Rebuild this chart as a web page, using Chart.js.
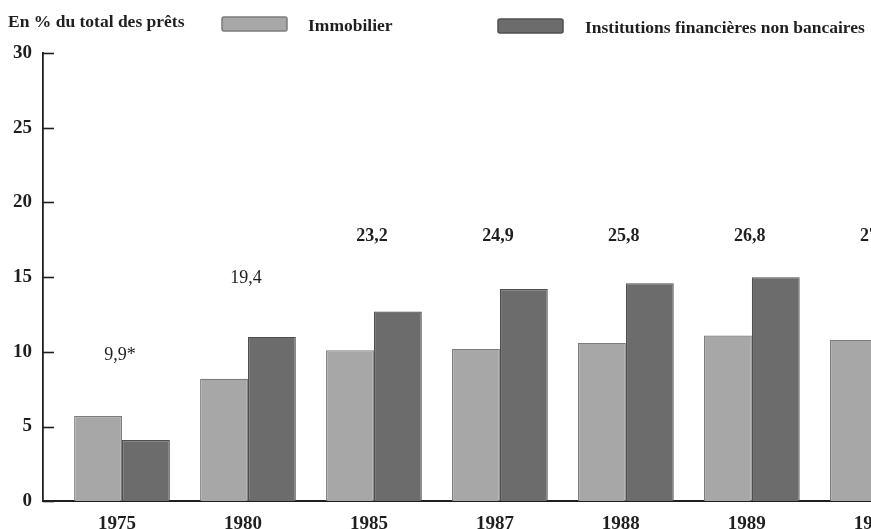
<!DOCTYPE html>
<html>
<head>
<meta charset="utf-8">
<script src="https://cdn.jsdelivr.net/npm/chart.js@4.4.1/dist/chart.umd.min.js"></script>
<style>
html,body{margin:0;padding:0;background:#fff;overflow:hidden}
#wrap{width:871px;height:529px;overflow:hidden;position:relative;background:#fff}
#inner{position:absolute;left:0;top:0;width:1000px;height:529px}
</style>
</head>
<body>
<div id="wrap"><div id="inner"><canvas id="c" width="1000" height="529"></canvas></div></div>
<script>
// ---- data ----
const years = ['1975', '1980', '1985', '1987', '1988', '1989', '1990'];
const immobilier = [5.7, 8.2, 10.1, 10.2, 10.6, 11.1, 10.8];
const nonBancaires = [4.1, 11.0, 12.7, 14.2, 14.6, 15.0, 15.4];
const totalLabels = ['9,9*', '19,4', '23,2', '24,9', '25,8', '26,8', '27,4'];
const yTicks = [0, 5, 10, 15, 20, 25, 30];
const axisTitle = 'En % du total des prêts';
const seriesNames = ['Immobilier', 'Institutions financières non bancaires'];

// ---- styles ----
const INK = '#1f1f1f';
const SERIF = '"Liberation Serif", "DejaVu Serif", serif';
const C_IMMO = '#a7a7a7', B_IMMO = '#7c7c7c';
const C_NB = '#6c6c6c', B_NB = '#4f4f4f';

const annotations = {
  id: 'annotations',
  afterDatasetsDraw(chart, args, opts) {
    const {ctx, scales: {x, y}} = chart;
    ctx.save();
    // inward tick marks on the y axis
    ctx.strokeStyle = INK;
    ctx.lineWidth = 1.6;
    y.ticks.forEach((t, i) => {
      const py = Math.round(y.getPixelForTick(i)) + 0.5;
      ctx.beginPath();
      ctx.moveTo(x.left, py);
      ctx.lineTo(x.left + opts.tickLen, py);
      ctx.stroke();
    });
    // total labels above each group
    ctx.fillStyle = INK;
    ctx.textAlign = 'center';
    ctx.textBaseline = 'middle';
    totalLabels.forEach((s, i) => {
      ctx.font = opts.weights[i] + ' 18px ' + SERIF;
      ctx.fillText(s, x.getPixelForValue(i) + opts.dx, y.getPixelForValue(opts.levels[i]));
    });
    ctx.restore();
  },
  afterDraw(chart, args, opts) {
    const {ctx} = chart;
    ctx.save();
    ctx.fillStyle = INK;
    ctx.textBaseline = 'alphabetic';
    ctx.textAlign = 'left';
    ctx.font = 'bold 17.5px ' + SERIF;
    ctx.fillText(axisTitle, 8, 27);
    // legend
    chart.data.datasets.forEach((ds, i) => {
      const lg = opts.legend[i];
      ctx.fillStyle = ds.backgroundColor;
      ctx.strokeStyle = ds.borderColor;
      ctx.lineWidth = 1.5;
      ctx.beginPath();
      ctx.roundRect(lg.bx, lg.by, 65, 14, 2);
      ctx.fill();
      ctx.stroke();
      ctx.fillStyle = INK;
      ctx.font = 'bold 17.5px ' + SERIF;
      ctx.fillText(ds.label, lg.tx, lg.ty);
    });
    ctx.restore();
  }
};

new Chart(document.getElementById('c'), {
  type: 'bar',
  data: {
    datasets: [
      {
        label: seriesNames[0],
        data: immobilier.map((v, i) => ({x: i, y: v})),
        backgroundColor: C_IMMO,
        borderColor: B_IMMO,
        borderWidth: 1.2
      },
      {
        label: seriesNames[1],
        data: nonBancaires.map((v, i) => ({x: i, y: v})),
        backgroundColor: C_NB,
        borderColor: B_NB,
        borderWidth: 1.2
      }
    ]
  },
  options: {
    responsive: false,
    animation: false,
    devicePixelRatio: 1,
    categoryPercentage: 0.76,
    barPercentage: 1.0,
    layout: {padding: {top: 53, left: 0, right: 0, bottom: 0}},
    plugins: {
      legend: {display: false},
      tooltip: {enabled: false},
      annotations: {
        tickLen: 11,
        dx: -2,
        levels: [9.8, 14.9, 17.75, 17.75, 17.75, 17.75, 17.75],
        weights: ['normal', 'normal', 'bold', 'bold', 'bold', 'bold', 'bold'],
        legend: [
          {bx: 222, by: 17, tx: 308, ty: 31},
          {bx: 498, by: 19, tx: 585, ty: 33}
        ]
      }
    },
    scales: {
      x: {
        type: 'linear',
        offset: false,
        min: -0.627,
        max: 6.97,
        afterFit(s) { s.height = 27.7; },
        grid: {display: false},
        border: {display: true, color: INK, width: 2},
        ticks: {
          stepSize: 1,
          includeBounds: false,
          autoSkip: false,
          maxRotation: 0,
          labelOffset: -5,
          padding: 3,
          color: INK,
          font: {family: SERIF, size: 19, weight: 'bold'},
          callback: (v) => (Number.isInteger(v) && years[v] !== undefined) ? years[v] : ''
        }
      },
      y: {
        min: 0,
        max: 30,
        afterFit(s) { s.width = 43; },
        afterBuildTicks(s) { s.ticks = yTicks.map(v => ({value: v})); },
        grid: {display: false},
        border: {display: true, color: INK, width: 1.8},
        ticks: {
          padding: 3,
          color: INK,
          font: {family: SERIF, size: 19, weight: 'bold'}
        }
      }
    }
  },
  plugins: [annotations]
});
</script>
</body>
</html>
